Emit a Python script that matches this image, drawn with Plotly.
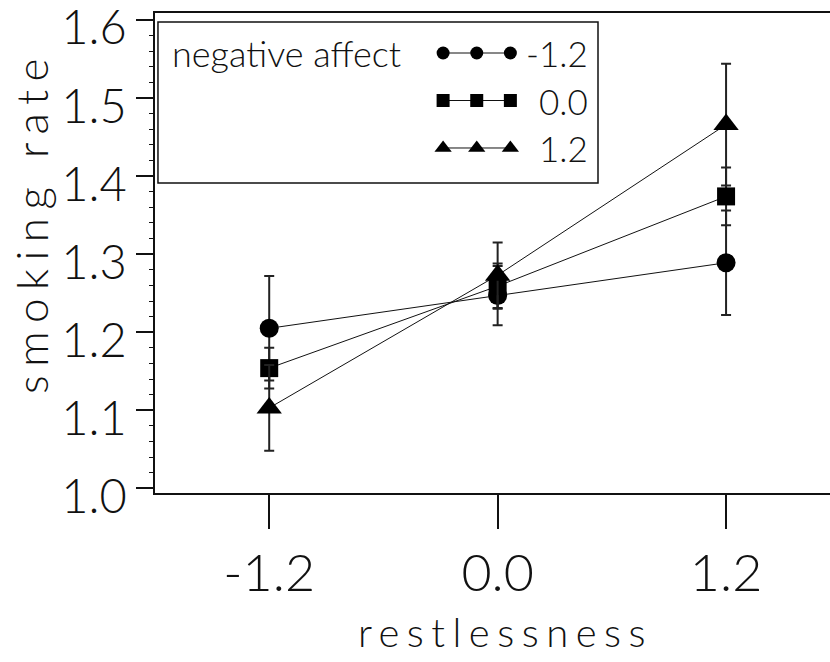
import plotly.graph_objects as go

# ---- data ----
restlessness = [-1.2, 0.0, 1.2]
x_ticklabels = ["-1.2", "0.0", "1.2"]
y_ticks = [1.0, 1.1, 1.2, 1.3, 1.4, 1.5, 1.6]

na_labels = ["-1.2", "0.0", "1.2"]          # negative affect levels
na_symbols = ["circle", "square", "triangle-up"]
na_sizes = [19, 18, 22]
legend_sizes = [13, 13, 15]

rate_neg = [1.205, 1.247, 1.289]
err_neg = [0.067, 0.038, 0.067]
rate_zero = [1.154, 1.259, 1.374]
err_zero = [0.026, 0.029, 0.037]
rate_pos = [1.103, 1.273, 1.466]
err_pos = [0.055, 0.042, 0.078]

series_rates = [rate_neg, rate_zero, rate_pos]
series_errs = [err_neg, err_zero, err_pos]

# legend sample glyph positions (three markers per row)
legend_cols = [1, 2, 3]
legend_rows = [1, 2, 3]

FONT = "Lato"
INK = "#111111"

fig = go.Figure()

for rates, errs, sym, sz, lab in zip(series_rates, series_errs, na_symbols, na_sizes, na_labels):
    fig.add_trace(go.Scatter(
        x=restlessness, y=rates, mode="lines+markers", name=lab,
        line=dict(color=INK, width=1),
        marker=dict(symbol=sym, size=sz, color="black", line=dict(width=0)),
        error_y=dict(type="data", array=errs, visible=True, color="#222222",
                     thickness=2, width=5),
        showlegend=False, xaxis="x", yaxis="y",
    ))

# custom legend glyphs drawn on a small inset axis
for row, sym, sz, lab in zip(legend_rows, na_symbols, legend_sizes, na_labels):
    fig.add_trace(go.Scatter(
        x=legend_cols, y=[row] * len(legend_cols), mode="lines+markers",
        line=dict(color=INK, width=1),
        marker=dict(symbol=sym, size=sz, color="black", line=dict(width=0)),
        showlegend=False, xaxis="x2", yaxis="y2", hoverinfo="skip",
    ))

annotations = [
    dict(text="negative affect", xref="paper", yref="y2", x=0.0222, y=legend_rows[0],
         xanchor="left", yanchor="middle", showarrow=False,
         font=dict(family=FONT, size=36, color=INK, weight=300)),
]
for row, lab in zip(legend_rows, na_labels):
    annotations.append(dict(text=lab, xref="paper", yref="y2", x=0.6445, y=row,
                            xanchor="right", yanchor="middle", showarrow=False,
                            font=dict(family=FONT, size=35, color=INK, weight=300)))

fig.update_layout(
    width=830, height=662,
    margin=dict(l=155, r=0, t=13, b=169),
    paper_bgcolor="white", plot_bgcolor="white",
    showlegend=False,
    xaxis=dict(
        range=[-1.8, 1.746], tickvals=restlessness, ticktext=x_ticklabels,
        ticks="outside", ticklen=34, tickwidth=1.5, tickcolor=INK,
        showline=True, linecolor=INK, linewidth=1.5, mirror=True,
        showgrid=False, zeroline=False, automargin=False,
        tickfont=dict(family=FONT, size=52, color=INK, weight=300),
        title=dict(text="restlessness", standoff=18,
                   font=dict(family=FONT, size=40, color=INK, weight=300)),
    ),
    yaxis=dict(
        range=[0.994, 1.609], tickvals=y_ticks, tickformat=".1f",
        ticks="outside", ticklen=17, tickwidth=1.5, tickcolor=INK,
        ticklabeloverflow="allow", ticklabelshift=8,
        minor=dict(dtick=0.02, ticks="outside", ticklen=4, tickwidth=1.2, tickcolor=INK),
        showline=True, linecolor=INK, linewidth=1.5, mirror=False,
        showgrid=False, zeroline=False, automargin=False,
        tickfont=dict(family=FONT, size=47, color=INK, weight=300),
        title=dict(text="smoking rate", standoff=5,
                   font=dict(family=FONT, size=44, color=INK, weight=300)),
    ),
    xaxis2=dict(domain=[0.3770, 0.5763], range=[0, 4], visible=False, anchor="y2"),
    yaxis2=dict(domain=[0.6693, 0.9661], range=[3.5, 0.5], visible=False, anchor="x2"),
    shapes=[dict(type="rect", xref="paper", yref="paper", x0=0.0044, x1=0.6563,
                 y0=0.6458, y1=0.98125, line=dict(color=INK, width=1.5))],
    annotations=annotations,
)

post = """
var gd = document.getElementById('{plot_id}');
function sp(sel, v){ gd.querySelectorAll(sel).forEach(function(e){ e.style.letterSpacing = v; }); }
function mv(sel, dx, dy){ gd.querySelectorAll(sel).forEach(function(e){ e.setAttribute('transform', 'translate(' + dx + ',' + dy + ')'); }); }
sp('.xtitle', '7.5px');
sp('.ytitle', '8.5px');
mv('.g-xtitle', 13, 0);
mv('.g-ytitle', 6, -31);
"""

fig.write_html("out.html", post_script=post)
